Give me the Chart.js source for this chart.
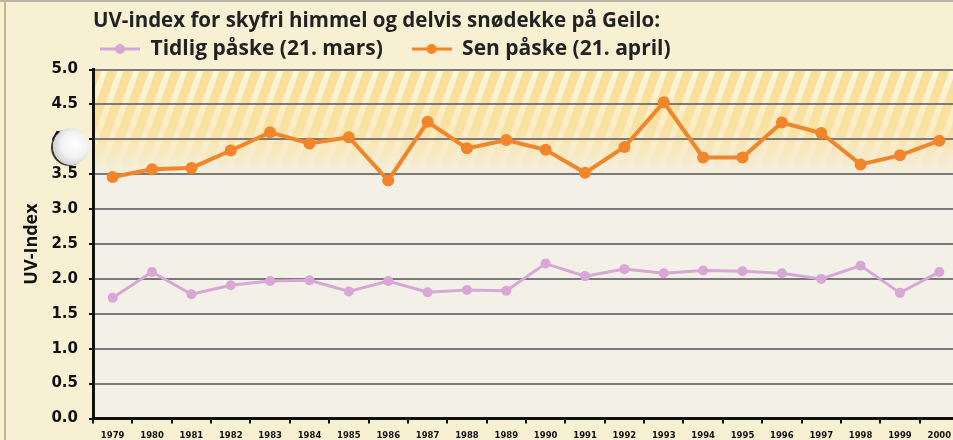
<!DOCTYPE html>
<html>
<head>
<meta charset="utf-8">
<script src="https://cdn.jsdelivr.net/npm/chart.js@4/dist/chart.umd.min.js"></script>
<style>
  html, body { margin: 0; padding: 0; background: #f8f0d3; overflow: hidden; }
  #wrap { position: relative; width: 953px; height: 440px; overflow: hidden; }
  #box { position: absolute; left: 0; top: 0; width: 965px; height: 440px; }
  #topline { position: absolute; left: 0; top: 0; width: 953px; height: 2px; background: #b9b4a6; }
  #edge { position: absolute; left: 4px; top: 0; width: 2px; height: 440px; background: #c8b58c; }
  #hole { position: absolute; left: 53px; top: 128px; width: 36px; height: 37px; border-radius: 50%;
    background: radial-gradient(circle at 60% 45%, #ffffff 0%, #f1f1f1 45%, #c9c9c9 80%, #7a7a7a 100%);
    box-shadow: -2px 1px 0 #3a3a3a; }
</style>
</head>
<body>
<div id="wrap">
  <div id="box"><canvas id="uvChart"></canvas></div>
  <div id="topline"></div>
  <div id="edge"></div>
  <div id="hole"></div>
</div>
<script>
const years = ["1979", "1980", "1981", "1982", "1983", "1984", "1985", "1986", "1987", "1988", "1989",
  "1990", "1991", "1992", "1993", "1994", "1995", "1996", "1997", "1998", "1999", "2000"];
const earlyEaster = [1.73, 2.10, 1.78, 1.91, 1.97, 1.98, 1.82, 1.97, 1.81, 1.84, 1.83,
  2.22, 2.04, 2.14, 2.08, 2.12, 2.11, 2.08, 2.00, 2.19, 1.80, 2.10];
const lateEaster = [3.46, 3.57, 3.59, 3.84, 4.10, 3.94, 4.03, 3.41, 4.25, 3.87, 3.99,
  3.85, 3.52, 3.89, 4.53, 3.74, 3.74, 4.24, 4.09, 3.64, 3.77, 3.98];
const seriesNames = ["Tidlig påske (21. mars)", "Sen påske (21. april)"];
const seriesColors = ["#d8a7d5", "#f2852a"];

const LEFT_PAD = 21;

// line-with-dot image for the legend
function legendMark(color) {
  const c = document.createElement("canvas");
  c.width = 40;
  c.height = 12;
  const g = c.getContext("2d");
  g.strokeStyle = color;
  g.lineWidth = 3;
  g.beginPath();
  g.moveTo(0, 6);
  g.lineTo(40, 6);
  g.stroke();
  g.fillStyle = color;
  g.beginPath();
  g.arc(20, 6, 5, 0, Math.PI * 2);
  g.fill();
  return c;
}

const plotBackground = {
  id: "plotBackground",
  beforeDraw(chart) {
    const { ctx, chartArea: a } = chart;
    ctx.save();
    ctx.fillStyle = "#f3f0e7";
    ctx.fillRect(a.left, a.top, a.right - a.left, a.bottom - a.top);
    const band = 110;
    const grad = ctx.createLinearGradient(0, a.top, 0, a.top + band);
    grad.addColorStop(0, "rgba(250,222,145,0.95)");
    grad.addColorStop(0.55, "rgba(250,222,145,0.8)");
    grad.addColorStop(1, "rgba(250,222,145,0)");
    ctx.fillStyle = grad;
    ctx.fillRect(a.left, a.top, a.right - a.left, band);
    const sgrad = ctx.createLinearGradient(0, a.top, 0, a.top + band);
    sgrad.addColorStop(0, "rgba(255,255,255,0.7)");
    sgrad.addColorStop(1, "rgba(255,255,255,0)");
    ctx.strokeStyle = sgrad;
    ctx.lineWidth = 6;
    ctx.beginPath();
    ctx.rect(a.left, a.top, a.right - a.left, band);
    ctx.clip();
    for (let x = a.left - 60; x < a.right + 60; x += 16) {
      ctx.beginPath();
      ctx.moveTo(x, a.top + band);
      ctx.lineTo(x + 40, a.top);
      ctx.stroke();
    }
    ctx.restore();
  }
};

const ctxUv = document.getElementById("uvChart").getContext("2d");
const uvChart = new Chart(ctxUv, {
  type: "line",
  data: {
    labels: years,
    datasets: [
      {
        label: seriesNames[0],
        data: earlyEaster,
        borderColor: seriesColors[0],
        backgroundColor: seriesColors[0],
        borderWidth: 3,
        pointRadius: 5,
        pointBorderWidth: 0,
        tension: 0,
      },
      {
        label: seriesNames[1],
        data: lateEaster,
        borderColor: seriesColors[1],
        backgroundColor: seriesColors[1],
        borderWidth: 4,
        pointRadius: 6,
        pointBorderWidth: 0,
        tension: 0,
      },
    ],
  },
  options: {
    responsive: true,
    maintainAspectRatio: false,
    animation: false,
    layout: { padding: { left: LEFT_PAD, right: 3, top: 0, bottom: -8 } },
    plugins: {
      title: {
        display: true,
        text: "UV-index for skyfri himmel og delvis snødekke på Geilo:",
        align: "start",
        fullSize: false,
        color: "#222",
        font: { family: "Open Sans", size: 20.5, weight: "bold", lineHeight: 1.0 },
        padding: { top: 11, bottom: 0 },
      },
      legend: {
        display: true,
        position: "top",
        align: "start",
        fullSize: false,
        labels: {
          usePointStyle: true,
          pointStyleWidth: 40,
          color: "#222",
          font: { family: "Open Sans", size: 21, weight: "bold", lineHeight: 1.0 },
          padding: 7,
          generateLabels(chart) {
            return chart.data.datasets.map((ds, i) => ({
              // trailing spaces widen the gap to the next item
              text: i === 0 ? ds.label + "    " : ds.label,
              fillStyle: ds.borderColor,
              strokeStyle: ds.borderColor,
              lineWidth: 0,
              pointStyle: legendMark(ds.borderColor),
              hidden: false,
              datasetIndex: i,
              fontColor: "#222",
            }));
          },
        },
      },
      tooltip: { enabled: false },
    },
    scales: {
      x: {
        offset: true,
        grid: {
          offset: true,
          drawOnChartArea: false,
          color: "#111",
          lineWidth: 2,
          tickLength: 5,
        },
        border: { color: "#111", width: 3 },
        ticks: {
          autoSkip: false,
          maxRotation: 0,
          color: "#111",
          padding: 8,
          font: { family: "DejaVu Sans", size: 8.5, weight: "bold", lineHeight: 1.0 },
        },
      },
      y: {
        min: 0,
        max: 5,
        afterFit(scale) {
          scale.width = 93 - LEFT_PAD;
        },
        ticks: {
          stepSize: 0.5,
          color: "#111",
          padding: 11,
          font: { family: "DejaVu Sans", size: 15, weight: "bold" },
          callback: (v) => Number(v).toFixed(1),
        },
        grid: {
          color: "#7a7a7a",
          lineWidth: 2,
          tickLength: 4,
          tickColor: "#111",
        },
        border: { color: "#111", width: 3 },
        title: {
          display: true,
          text: "UV-Index",
          color: "#111",
          font: { family: "Open Sans", size: 18, weight: "bold" },
          padding: 0,
        },
      },
    },
  },
  plugins: [plotBackground],
});
</script>
</body>
</html>
